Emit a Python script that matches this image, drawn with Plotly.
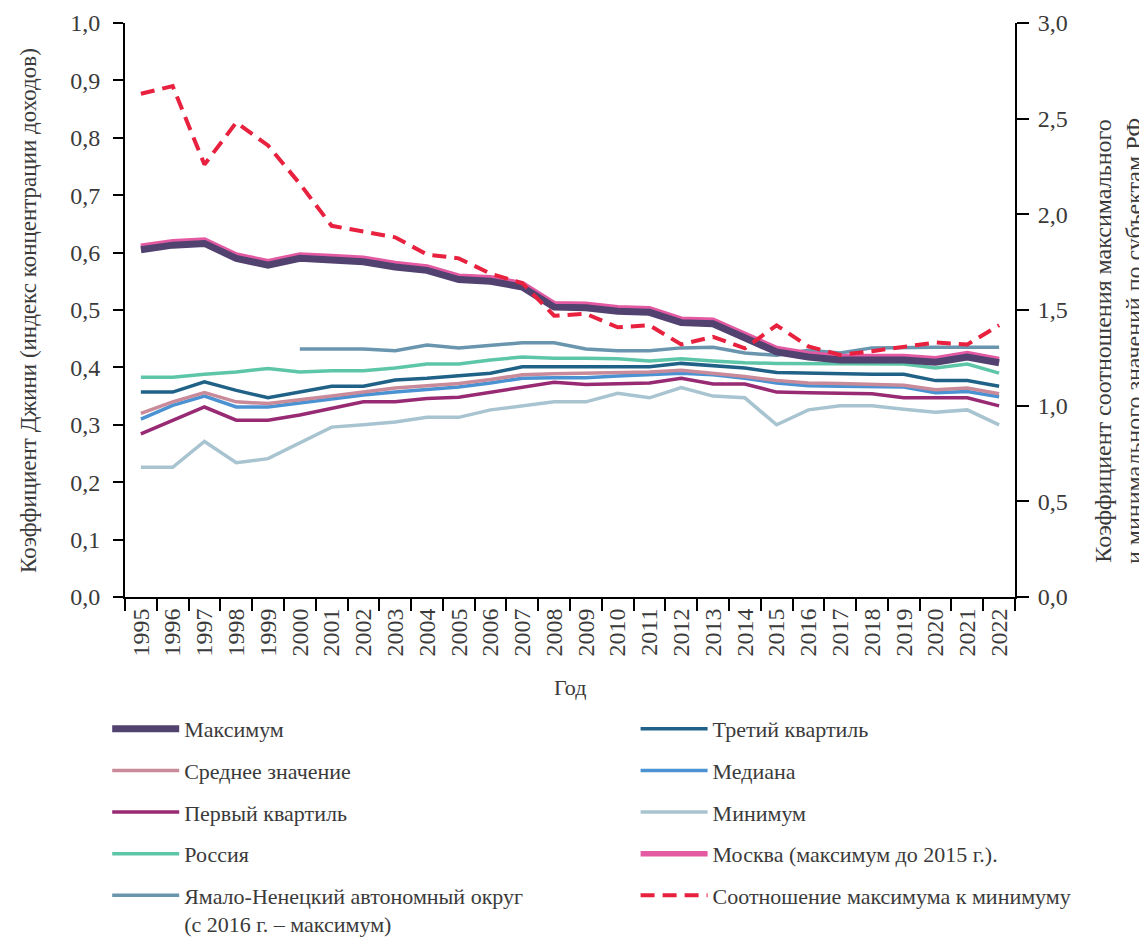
import plotly.graph_objects as go

years = [str(y) for y in range(1995, 2023)]

max_vals = [0.605, 0.613, 0.616, 0.590, 0.578, 0.590, 0.587, 0.584, 0.575, 0.569,
            0.553, 0.550, 0.540, 0.505, 0.504, 0.498, 0.496, 0.478, 0.476, 0.451,
            0.427, 0.418, 0.413, 0.413, 0.413, 0.409, 0.418, 0.408]
moscow = [0.611, 0.619, 0.622, 0.596, 0.584, 0.596, 0.593, 0.590, 0.581, 0.575,
          0.559, 0.556, 0.546, 0.511, 0.510, 0.504, 0.502, 0.484, 0.482, 0.457,
          0.433, 0.424, 0.419, 0.419, 0.419, 0.415, 0.424, 0.414]
ratio = [2.63, 2.67, 2.26, 2.48, 2.36, 2.16, 1.94, 1.91, 1.88, 1.79,
         1.77, 1.69, 1.64, 1.47, 1.48, 1.41, 1.42, 1.32, 1.36, 1.30,
         1.42, 1.31, 1.265, 1.285, 1.31, 1.33, 1.32, 1.42]
russia = [0.383, 0.383, 0.388, 0.392, 0.398, 0.392, 0.394, 0.394, 0.399, 0.406,
          0.406, 0.413, 0.418, 0.416, 0.416, 0.415, 0.411, 0.415, 0.411, 0.408,
          0.407, 0.407, 0.407, 0.407, 0.406, 0.399, 0.406, 0.390]
ynao = [None, None, None, None, None, 0.432, 0.432, 0.432, 0.429, 0.439,
        0.434, 0.439, 0.443, 0.443, 0.432, 0.429, 0.429, 0.434, 0.435, 0.425,
        0.421, 0.430, 0.425, 0.434, 0.435, 0.435, 0.435, 0.435]
q3 = [0.357, 0.357, 0.375, 0.360, 0.347, 0.357, 0.367, 0.367, 0.378, 0.381,
      0.385, 0.390, 0.401, 0.401, 0.401, 0.401, 0.401, 0.407, 0.403, 0.399,
      0.391, 0.390, 0.388, 0.388, 0.388, 0.377, 0.377, 0.367]
mean_vals = [0.320, 0.340, 0.356, 0.340, 0.337, 0.343, 0.350, 0.357, 0.364, 0.368,
             0.372, 0.379, 0.387, 0.389, 0.390, 0.390, 0.392, 0.395, 0.390, 0.384,
             0.377, 0.373, 0.372, 0.371, 0.369, 0.361, 0.364, 0.354]
median = [0.310, 0.334, 0.350, 0.331, 0.331, 0.338, 0.346, 0.352, 0.357, 0.361,
          0.366, 0.373, 0.381, 0.382, 0.382, 0.385, 0.388, 0.390, 0.387, 0.381,
          0.373, 0.368, 0.367, 0.367, 0.366, 0.356, 0.358, 0.349]
q1 = [0.284, 0.308, 0.331, 0.308, 0.308, 0.317, 0.329, 0.340, 0.340, 0.346,
      0.348, 0.357, 0.365, 0.374, 0.370, 0.371, 0.373, 0.381, 0.371, 0.371,
      0.357, 0.356, 0.355, 0.354, 0.347, 0.347, 0.347, 0.333]
min_vals = [0.226, 0.226, 0.271, 0.234, 0.241, 0.268, 0.296, 0.300, 0.305, 0.313,
            0.313, 0.326, 0.333, 0.340, 0.340, 0.355, 0.347, 0.365, 0.350, 0.347,
            0.300, 0.326, 0.333, 0.333, 0.327, 0.322, 0.326, 0.300]

FONT = "Liberation Serif"
TXT = "#3a3a3a"
FS = 22

# (name, values, color, width, dash, axis, legend, rank)
series = [
    ("Минимум", min_vals, "#a8c4d0", 3.5, "solid", "y", "legend2", 3),
    ("Первый квартиль", q1, "#982a73", 3.5, "solid", "y", "legend", 3),
    ("Медиана", median, "#4b92d2", 3.5, "solid", "y", "legend2", 2),
    ("Среднее значение", mean_vals, "#c98a99", 3.5, "solid", "y", "legend", 2),
    ("Третий квартиль", q3, "#206287", 3.5, "solid", "y", "legend2", 1),
    ("Россия", russia, "#5ec6a8", 3.5, "solid", "y", "legend", 4),
    ("Ямало-Ненецкий автономный округ<br>(с 2016 г. – максимум)", ynao, "#6996ae", 3.5, "solid", "y", "legend", 5),
    ("Москва (максимум до 2015 г.).", moscow, "#e35aa3", 5.5, "solid", "y", "legend2", 4),
    ("Максимум", max_vals, "#514270", 7, "solid", "y", "legend", 1),
    ("Соотношение максимума к минимуму", ratio, "#e8213f", 4, "14px,8px", "y2", "legend2", 5),
]

fig = go.Figure()
for name, vals, color, width, dash, axis, leg, rank in series:
    fig.add_trace(go.Scatter(
        x=years, y=vals, name=name, mode="lines",
        line=dict(color=color, width=width, dash=dash),
        yaxis=axis, legend=leg, legendrank=rank, legendgroup=name,
        connectgaps=False,
    ))

legend_common = dict(
    font=dict(family=FONT, size=FS, color=TXT),
    traceorder="grouped",
    tracegroupgap=10,
    itemwidth=67,
    valign="top",
    bgcolor="rgba(0,0,0,0)",
    yanchor="top",
    xanchor="left",
)

tick_font = dict(family=FONT, size=24, color=TXT)

# page body has an 8px margin, so the figure is offset by 8px
fig.update_layout(
    width=1139, height=930,
    margin=dict(l=117, r=132, t=15, b=341, autoexpand=False),
    paper_bgcolor="white", plot_bgcolor="white",
    separators=", ",
    font=dict(family=FONT, size=FS, color=TXT),
    showlegend=True,
    legend=dict(x=-0.020, y=-0.1935, **legend_common),
    legend2=dict(x=0.5737, y=-0.1935, **legend_common),
    xaxis=dict(
        type="category", range=[-0.5, 27.5],
        showline=True, linecolor="black", linewidth=2,
        ticks="outside", tickson="boundaries", ticklen=12, tickwidth=2, tickcolor="black",
        tickangle=-90, tickfont=tick_font,
        showgrid=False, zeroline=False, automargin=False,
    ),
    yaxis=dict(
        range=[0, 1.0], dtick=0.1, tickformat=".1f",
        showline=True, linecolor="black", linewidth=2,
        ticks="outside", ticklen=10, tickwidth=2, tickcolor="black",
        tickfont=tick_font, ticklabelstandoff=8,
        showgrid=False, zeroline=False, automargin=False,
    ),
    yaxis2=dict(
        range=[0, 3.0], dtick=0.5, tickformat=".1f",
        overlaying="y", side="right",
        showline=True, linecolor="black", linewidth=2,
        ticks="outside", ticklen=12, tickwidth=2, tickcolor="black",
        tickfont=tick_font, ticklabelstandoff=4,
        showgrid=False, zeroline=False, automargin=False,
    ),
    annotations=[
        dict(text="Год", xref="paper", yref="paper", x=0.5, y=-0.1585,
             xanchor="center", yanchor="middle", showarrow=False,
             font=dict(family=FONT, size=FS, color=TXT)),
        dict(text="Коэффициент Джини (индекс концентрации доходов)",
             xref="paper", yref="paper", x=-0.109, y=0.5, textangle=-90,
             xanchor="center", yanchor="middle", showarrow=False,
             font=dict(family=FONT, size=23, color=TXT)),
        dict(text="Коэффициент соотношения максимального<br>и минимального значений по субъектам РФ",
             xref="paper", yref="paper", x=1.1169, y=0.446, textangle=-90,
             xanchor="center", yanchor="middle", showarrow=False,
             font=dict(family=FONT, size=24, color=TXT)),
    ],
)

fig.write_html("out.html")
